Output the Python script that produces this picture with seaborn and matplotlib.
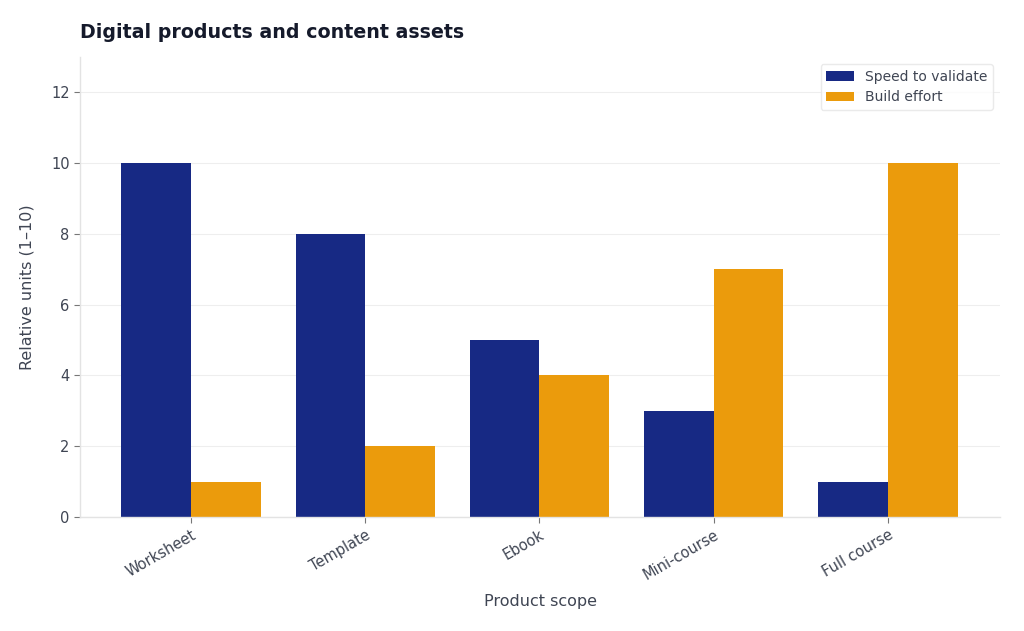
import pandas as pd
import matplotlib
matplotlib.use("Agg")
import matplotlib.pyplot as plt
import seaborn as sns

products = ['Worksheet', 'Template', 'Ebook', 'Mini-course', 'Full course']
speed_to_validate = [10, 8, 5, 3, 1]
build_effort = [1, 2, 4, 7, 10]
series_names = ['Speed to validate', 'Build effort']
colors = ['#172984', '#eb9b0c']

df = pd.DataFrame({
    'Product': products * 2,
    'Series': [series_names[0]] * len(products) + [series_names[1]] * len(products),
    'Value': speed_to_validate + build_effort,
})

sns.set_theme(style='white')
plt.rcParams['font.family'] = ['DejaVu Sans']
text_col = '#3f4553'

fig = plt.figure(figsize=(10.24, 6.31), dpi=100)
ax = fig.add_axes([80 / 1024, 1 - 517 / 631, 920 / 1024, 460 / 631])

sns.barplot(data=df, x='Product', y='Value', hue='Series', palette=colors,
            width=0.8, saturation=1, ax=ax, edgecolor='none')

ax.set_xlim(-0.637, 4.643)
ax.set_ylim(0, 13)
ax.set_yticks([0, 2, 4, 6, 8, 10, 12])
ax.yaxis.grid(True, color='#eeeeee', linewidth=0.8)
ax.set_axisbelow(True)
for s in ['top', 'right']:
    ax.spines[s].set_visible(False)
for s in ['left', 'bottom']:
    ax.spines[s].set_color('#e3e3e3')
    ax.spines[s].set_linewidth(1)

ax.tick_params(axis='both', colors=text_col, labelsize=10.5, length=4, width=0.8,
               bottom=True, left=True)
ax.tick_params(axis='both', color='#777777')
plt.setp(ax.get_xticklabels(), rotation=30, ha='right', rotation_mode='anchor')

ax.set_xlabel('Product scope', fontsize=11.5, color=text_col, labelpad=8)
ax.set_ylabel('Relative units (1–10)', fontsize=11.5, color=text_col, labelpad=12)
ax.set_title('Digital products and content assets', loc='left', fontsize=13.7,
             fontweight='bold', color='#151a2b', pad=14)

leg = ax.legend(loc='upper right', fontsize=10, frameon=True, title=None,
                borderaxespad=0.5, handlelength=2, handleheight=0.7)
leg.get_frame().set_edgecolor('#e5e5e5')
for t in leg.get_texts():
    t.set_color(text_col)

fig.savefig('out.png', dpi=100)
